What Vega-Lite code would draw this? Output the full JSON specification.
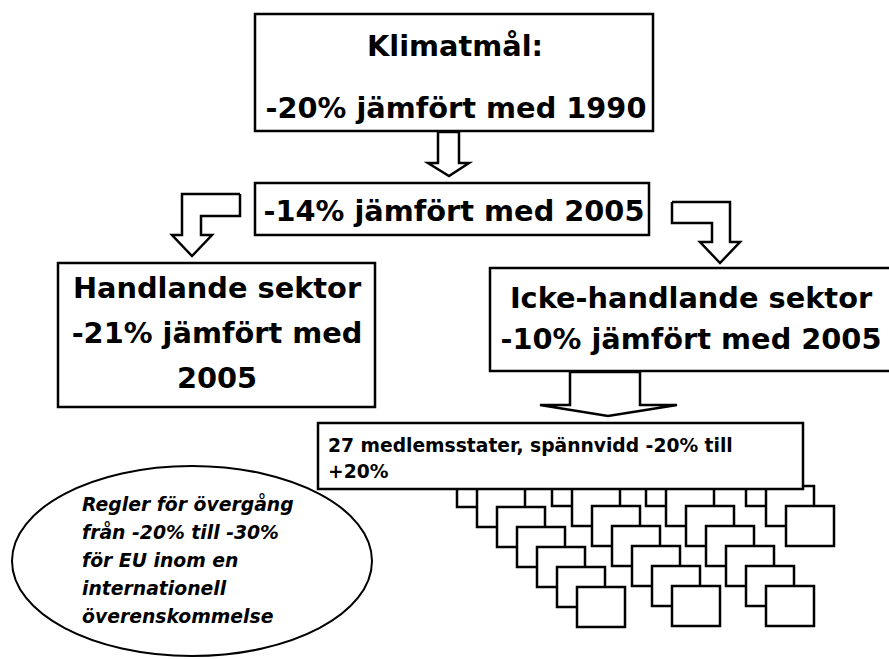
{
  "$schema": "https://vega.github.io/schema/vega-lite/v6.json",
  "width": 889,
  "height": 659,
  "autosize": "none",
  "padding": 0,
  "background": "white",
  "config": {"view": {"stroke": null}},
  "datasets": {
    "boxes": [
      {"id": "b1", "x": 255, "x2": 653, "y": 14, "y2": 131},
      {"id": "b2", "x": 255, "x2": 649, "y": 183, "y2": 235},
      {"id": "b3", "x": 58, "x2": 375, "y": 263, "y2": 407},
      {"id": "b4", "x": 490, "x2": 893, "y": 268, "y2": 371}
    ],
    "box5": [
      {"id": "b5", "x": 318, "x2": 803, "y": 423, "y2": 489}
    ],
    "arrows": [
      {"a": "a1", "o": 0, "x": 438, "y": 132},
      {"a": "a1", "o": 1, "x": 459, "y": 132},
      {"a": "a1", "o": 2, "x": 459, "y": 163},
      {"a": "a1", "o": 3, "x": 469, "y": 163},
      {"a": "a1", "o": 4, "x": 449, "y": 176},
      {"a": "a1", "o": 5, "x": 428, "y": 163},
      {"a": "a1", "o": 6, "x": 438, "y": 163},
      {"a": "a1", "o": 7, "x": 438, "y": 132},
      {"a": "a2", "o": 0, "x": 240, "y": 194},
      {"a": "a2", "o": 1, "x": 182, "y": 194},
      {"a": "a2", "o": 2, "x": 182, "y": 235},
      {"a": "a2", "o": 3, "x": 172, "y": 235},
      {"a": "a2", "o": 4, "x": 192, "y": 256},
      {"a": "a2", "o": 5, "x": 212, "y": 235},
      {"a": "a2", "o": 6, "x": 201, "y": 235},
      {"a": "a2", "o": 7, "x": 201, "y": 216},
      {"a": "a2", "o": 8, "x": 240, "y": 216},
      {"a": "a2", "o": 9, "x": 240, "y": 194},
      {"a": "a3", "o": 0, "x": 672, "y": 202},
      {"a": "a3", "o": 1, "x": 730, "y": 202},
      {"a": "a3", "o": 2, "x": 730, "y": 242},
      {"a": "a3", "o": 3, "x": 740, "y": 242},
      {"a": "a3", "o": 4, "x": 720, "y": 263},
      {"a": "a3", "o": 5, "x": 700, "y": 242},
      {"a": "a3", "o": 6, "x": 712, "y": 242},
      {"a": "a3", "o": 7, "x": 712, "y": 223},
      {"a": "a3", "o": 8, "x": 672, "y": 223},
      {"a": "a3", "o": 9, "x": 672, "y": 202},
      {"a": "a4", "o": 0, "x": 570, "y": 372},
      {"a": "a4", "o": 1, "x": 640, "y": 372},
      {"a": "a4", "o": 2, "x": 640, "y": 405},
      {"a": "a4", "o": 3, "x": 677, "y": 405},
      {"a": "a4", "o": 4, "x": 608, "y": 416},
      {"a": "a4", "o": 5, "x": 540, "y": 405},
      {"a": "a4", "o": 6, "x": 570, "y": 405},
      {"a": "a4", "o": 7, "x": 570, "y": 372}
    ],
    "bigtext": [
      {"x": 455, "y": 56, "t": "Klimatmål:"},
      {"x": 456, "y": 118, "t": "-20% jämfört med 1990"},
      {"x": 454, "y": 221, "t": "-14% jämfört med 2005"},
      {"x": 217, "y": 298, "t": "Handlande sektor"},
      {"x": 217, "y": 343, "t": "-21% jämfört med"},
      {"x": 217, "y": 388, "t": "2005"},
      {"x": 691, "y": 308, "t": "Icke-handlande sektor"},
      {"x": 691, "y": 349, "t": "-10% jämfört med 2005"}
    ],
    "squares": [
      {"g": "A", "x": 437, "y": 447, "x2": 485, "y2": 487},
      {"g": "A", "x": 457, "y": 467, "x2": 505, "y2": 507},
      {"g": "A", "x": 477, "y": 487, "x2": 525, "y2": 527},
      {"g": "A", "x": 497, "y": 507, "x2": 545, "y2": 547},
      {"g": "A", "x": 517, "y": 527, "x2": 565, "y2": 567},
      {"g": "A", "x": 537, "y": 547, "x2": 585, "y2": 587},
      {"g": "A", "x": 557, "y": 567, "x2": 605, "y2": 607},
      {"g": "A", "x": 577, "y": 587, "x2": 625, "y2": 627},
      {"g": "B", "x": 552, "y": 466, "x2": 600, "y2": 506},
      {"g": "B", "x": 572, "y": 486, "x2": 620, "y2": 526},
      {"g": "B", "x": 592, "y": 506, "x2": 640, "y2": 546},
      {"g": "B", "x": 612, "y": 526, "x2": 660, "y2": 566},
      {"g": "B", "x": 632, "y": 546, "x2": 680, "y2": 586},
      {"g": "B", "x": 652, "y": 566, "x2": 700, "y2": 606},
      {"g": "B", "x": 672, "y": 586, "x2": 720, "y2": 626},
      {"g": "C", "x": 646, "y": 466, "x2": 694, "y2": 506},
      {"g": "C", "x": 666, "y": 486, "x2": 714, "y2": 526},
      {"g": "C", "x": 686, "y": 506, "x2": 734, "y2": 546},
      {"g": "C", "x": 706, "y": 526, "x2": 754, "y2": 566},
      {"g": "C", "x": 726, "y": 546, "x2": 774, "y2": 586},
      {"g": "C", "x": 746, "y": 566, "x2": 794, "y2": 606},
      {"g": "C", "x": 766, "y": 586, "x2": 814, "y2": 626},
      {"g": "D", "x": 706, "y": 426, "x2": 754, "y2": 466},
      {"g": "D", "x": 726, "y": 446, "x2": 774, "y2": 486},
      {"g": "D", "x": 746, "y": 466, "x2": 794, "y2": 506},
      {"g": "D", "x": 766, "y": 486, "x2": 814, "y2": 526},
      {"g": "D", "x": 786, "y": 506, "x2": 834, "y2": 546}
    ],
    "box5text": [
      {"x": 328, "y": 452, "t": "27 medlemsstater, spännvidd -20% till"},
      {"x": 328, "y": 478, "t": "+20%"}
    ],
    "ellipse": [
      {"x": 192, "y": 561}
    ],
    "elltext": [
      {"x": 82, "y": 511, "t": "Regler för övergång"},
      {"x": 82, "y": 539, "t": "från -20% till -30%"},
      {"x": 82, "y": 567, "t": "för EU inom en"},
      {"x": 82, "y": 595, "t": "internationell"},
      {"x": 82, "y": 623, "t": "överenskommelse"}
    ]
  },
  "encoding": {
    "x": {"field": "x", "type": "quantitative", "axis": null, "scale": {"domain": [0, 889], "nice": false, "zero": false}},
    "y": {"field": "y", "type": "quantitative", "axis": null, "scale": {"domain": [0, 659], "nice": false, "zero": false, "reverse": true}}
  },
  "layer": [
    {
      "data": {"name": "boxes"},
      "mark": {"type": "rect", "fill": "white", "stroke": "black", "strokeWidth": 2.5},
      "encoding": {"x2": {"field": "x2"}, "y2": {"field": "y2"}}
    },
    {
      "data": {"name": "arrows"},
      "mark": {"type": "line", "stroke": "black", "strokeWidth": 2.5, "strokeJoin": "miter", "strokeCap": "butt"},
      "encoding": {"detail": {"field": "a"}, "order": {"field": "o", "type": "quantitative"}}
    },
    {
      "data": {"name": "bigtext"},
      "mark": {"type": "text", "font": "DejaVu Sans", "fontWeight": "bold", "fontSize": 28.8, "align": "center", "baseline": "alphabetic", "color": "black"},
      "encoding": {"text": {"field": "t"}}
    },
    {
      "data": {"name": "squares"},
      "mark": {"type": "rect", "fill": "white", "stroke": "black", "strokeWidth": 2.5},
      "encoding": {"x2": {"field": "x2"}, "y2": {"field": "y2"}}
    },
    {
      "data": {"name": "box5"},
      "mark": {"type": "rect", "fill": "white", "stroke": "black", "strokeWidth": 2.5},
      "encoding": {"x2": {"field": "x2"}, "y2": {"field": "y2"}}
    },
    {
      "data": {"name": "box5text"},
      "mark": {"type": "text", "font": "DejaVu Sans", "fontWeight": "bold", "fontSize": 18.7, "align": "left", "baseline": "alphabetic", "color": "black"},
      "encoding": {"text": {"field": "t"}}
    },
    {
      "data": {"name": "ellipse"},
      "mark": {"type": "point", "shape": "M-1,0C-1,-0.2916,-0.5523,-0.528,0,-0.528C0.5523,-0.528,1,-0.2916,1,0C1,0.2916,0.5523,0.528,0,0.528C-0.5523,0.528,-1,0.2916,-1,0Z", "size": 129600, "fill": "white", "stroke": "black", "strokeWidth": 2, "opacity": 1, "fillOpacity": 1, "strokeOpacity": 1}
    },
    {
      "data": {"name": "elltext"},
      "mark": {"type": "text", "font": "DejaVu Sans", "fontWeight": "bold", "fontStyle": "italic", "fontSize": 18.8, "align": "left", "baseline": "alphabetic", "color": "black"},
      "encoding": {"text": {"field": "t"}}
    }
  ]
}
